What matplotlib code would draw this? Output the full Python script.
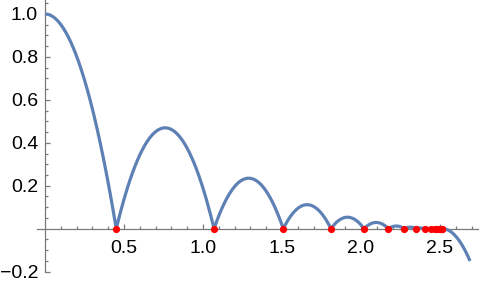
import numpy as np
import matplotlib
matplotlib.use("Agg")
import matplotlib.pyplot as plt
from matplotlib.ticker import FixedLocator, FixedFormatter

# ---- data ----
start_height = 1.0
g = 9.81
impact_times = [0.451, 1.070, 1.508, 1.810, 2.019, 2.173, 2.274, 2.350,
                2.403, 2.440, 2.466, 2.484, 2.497, 2.505, 2.511, 2.515]
t_end = 2.69

x_major = [0.5, 1.0, 1.5, 2.0, 2.5]
x_major_labels = ["0.5", "1.0", "1.5", "2.0", "2.5"]
y_major = [-0.2, 0.2, 0.4, 0.6, 0.8, 1.0]
y_major_labels = ["\u22120.2", "0.2", "0.4", "0.6", "0.8", "1.0"]

# ---- build curve from impact times (parabolic arcs) ----
ts, ys = [], []
t0 = impact_times[0]
tt = np.linspace(0, t0, 120)
ts.append(tt); ys.append(start_height * (1 - (tt / t0) ** 2))
for a, b in zip(impact_times[:-1], impact_times[1:]):
    tt = np.linspace(a, b, 80)
    ts.append(tt); ys.append(0.5 * g * (tt - a) * (b - tt))
tt = np.linspace(impact_times[-1], t_end, 60)
ts.append(tt); ys.append(-0.5 * g * (tt - impact_times[-1]) ** 2)
t_all = np.concatenate(ts)
y_all = np.concatenate(ys)

fig = plt.figure(figsize=(4.82, 2.87), dpi=100)
ax = fig.add_axes([0, 0, 1, 1])
ax.set_facecolor("none")

ax.plot(t_all, y_all, color="#5E81B5", lw=2.3, solid_capstyle="butt",
        solid_joinstyle="round", zorder=3)
ax.plot(impact_times, np.zeros(len(impact_times)), "o", color="#FF0000",
        ms=5.2, mec="none", zorder=4)

ax.set_xlim(-45 / 158, 437 / 158)
ax.set_ylim(-(287 - 228.7) / 214.7, 228.7 / 214.7)

axcol = "#7a7a7a"
for s in ["top", "right"]:
    ax.spines[s].set_visible(False)
ax.spines["left"].set_position(("data", 0))
ax.spines["bottom"].set_position(("data", 0))
ax.spines["left"].set_bounds(-0.2, 1.2)
ax.spines["bottom"].set_bounds(-0.05, 2.74)
for s in ["left", "bottom"]:
    ax.spines[s].set_color(axcol)
    ax.spines[s].set_linewidth(0.9)
    ax.spines[s].set_zorder(1)

ax.xaxis.set_major_locator(FixedLocator(x_major))
ax.xaxis.set_major_formatter(FixedFormatter(x_major_labels))
ax.xaxis.set_minor_locator(FixedLocator([round(0.1 * i, 2) for i in range(1, 28) if i % 5 != 0]))
ax.yaxis.set_major_locator(FixedLocator(y_major))
ax.yaxis.set_major_formatter(FixedFormatter(y_major_labels))
ax.yaxis.set_minor_locator(FixedLocator([round(-0.2 + 0.05 * i, 3) for i in range(0, 26) if i % 4 != 0]))

for lab in ax.get_xticklabels() + ax.get_yticklabels():
    lab.set_fontfamily(["Liberation Sans", "DejaVu Sans"])
    lab.set_fontsize(14)
ax.tick_params(which="both", direction="in", color=axcol, width=0.9)
ax.tick_params(which="major", length=3.6)
ax.tick_params(which="minor", length=2.0)
ax.tick_params(axis="x", which="major", pad=8, labelcolor="black")
ax.tick_params(axis="y", which="major", pad=5, labelcolor="black")

fig.savefig("out.png", dpi=100)
